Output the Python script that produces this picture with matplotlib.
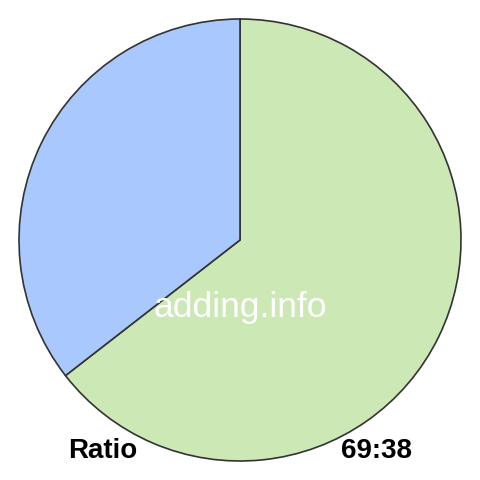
import matplotlib
matplotlib.use('Agg')
import matplotlib.pyplot as plt

labels = ['69', '38']
values = [69, 38]
colors = ['#cce8b5', '#a9c8fd']

plt.rcParams['font.family'] = ['Liberation Sans', 'DejaVu Sans']

fig = plt.figure(figsize=(4.8, 4.8), dpi=100)
ax = fig.add_axes([0, 0, 1, 1])
r = 221
ax.pie(values, colors=colors, startangle=90, counterclock=False, radius=1,
       wedgeprops=dict(edgecolor='#333333', linewidth=1.2))
ax.set_xlim(-240 / r, 240 / r)
ax.set_ylim(-240 / r, 240 / r)
ax.set_aspect('equal')
ax.axis('off')

# watermark and labels, in pixel positions converted to data coords
ax.text(0, -(317 - 240) / r, 'adding.info', color='white', fontsize=25.5,
        ha='center', va='baseline')
ax.text((68 - 240) / r, -(458 - 240) / r, 'Ratio', fontsize=20,
        fontweight='bold', ha='left', va='baseline')
ax.text((412 - 240) / r, -(458 - 240) / r, '%d:%d' % (values[0], values[1]),
        fontsize=20, fontweight='bold', ha='right', va='baseline')

fig.savefig('out.png', dpi=100, facecolor='white')
